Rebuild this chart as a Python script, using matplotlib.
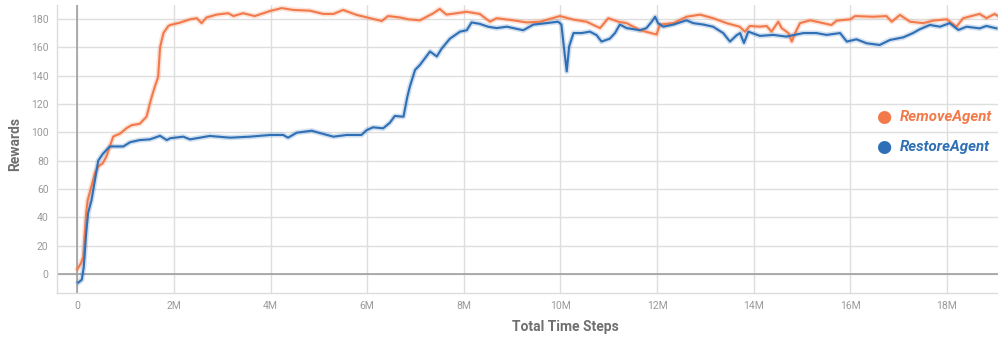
import matplotlib
matplotlib.use("Agg")
import matplotlib.pyplot as plt
from matplotlib.ticker import FuncFormatter

# Training reward curves (x in millions of time steps)
remove_steps = [0.0, 0.07, 0.12, 0.18, 0.21, 0.29, 0.36, 0.43, 0.52, 0.6, 0.67, 0.74, 0.88,
                1.02, 1.12, 1.29, 1.43, 1.52, 1.6, 1.67, 1.71, 1.78, 1.88,
                1.92, 2.12, 2.33, 2.47, 2.57, 2.67, 2.88, 3.12, 3.23, 3.43, 3.67, 3.85,
                3.99, 4.23, 4.47, 4.81, 5.09, 5.3, 5.5, 5.78, 6.06, 6.3, 6.43, 6.68, 6.85,
                7.09, 7.37, 7.5, 7.64, 8.06, 8.33, 8.54, 8.68, 9.02, 9.3, 9.58, 9.99,
                10.27, 10.54, 10.82, 10.99, 11.2, 11.37, 11.65, 11.99, 12.06, 12.34, 12.61,
                12.89, 13.16, 13.44, 13.71, 13.82, 13.92, 14.13, 14.27, 14.37, 14.51, 14.58,
                14.72, 14.79, 14.86, 14.96, 15.17, 15.44, 15.61, 15.72, 16.0, 16.1, 16.48,
                16.75, 16.86, 17.03, 17.24, 17.51, 17.72, 18.0, 18.2, 18.34, 18.68, 18.82,
                18.99, 19.06]
remove_reward = [3.5, 7.5, 12, 43, 52, 62, 71, 76, 78, 83, 90, 97, 99,
                 103, 105, 106, 111, 123, 132, 139, 160, 170, 175,
                 175.7, 177.3, 179.7, 180.5, 177, 181, 183, 184, 182, 184, 182, 184,
                 185.6, 187.6, 186.3, 185.8, 183.5, 183.5, 186.3, 182.8, 180.5, 178.5, 182, 181, 179.7,
                 179, 184, 187, 183, 185, 183.5, 178, 180.5, 179, 177.5, 178, 182,
                 179.5, 178, 173.5, 180.5, 178, 177, 172, 169, 176, 177, 181.5,
                 183, 180.5, 177, 174.5, 171, 175, 174.5, 175, 171, 178, 173.5,
                 170, 164, 170, 177, 179, 177, 175.7, 178.8, 179.7, 182, 181.5,
                 182, 178, 182.8, 178, 177, 178.8, 179.7, 174.5, 180.5, 183.5, 180.5,
                 183.5, 182]

restore_steps = [0.02, 0.09, 0.13, 0.18, 0.22, 0.29, 0.36, 0.43, 0.53, 0.67, 0.81, 0.95,
                 1.09, 1.29, 1.5, 1.71, 1.85,
                 1.92, 2.19, 2.33, 2.74, 3.16, 3.57, 3.99, 4.26, 4.36, 4.54, 4.85, 5.09,
                 5.3, 5.57, 5.88, 5.99, 6.12, 6.33, 6.47, 6.57, 6.75, 6.83,
                 6.88, 6.99, 7.09, 7.3, 7.44, 7.54, 7.71, 7.92, 8.06, 8.16, 8.33, 8.5,
                 8.68, 8.89, 9.23, 9.44, 9.71, 9.95, 10.02, 10.07, 10.13, 10.18, 10.27, 10.44,
                 10.61, 10.75, 10.85, 11.02, 11.13, 11.23, 11.37, 11.65, 11.78, 11.89, 11.96,
                 12.02, 12.13, 12.34, 12.61, 12.75, 12.96, 13.16, 13.37, 13.51, 13.65, 13.72,
                 13.8, 13.89, 14.13, 14.41, 14.68, 15.03, 15.3, 15.51, 15.79, 15.93, 16.13,
                 16.34, 16.61, 16.82, 17.1, 17.3, 17.44, 17.65, 17.86, 18.06, 18.24, 18.41,
                 18.68, 18.82, 19.03]
restore_reward = [-6, -4, 5, 29, 43, 52, 66, 80, 85, 90, 90, 90,
                  93, 94.5, 95, 97.5, 94.5,
                  95.8, 96.9, 95, 97.4, 96.2, 96.9, 98.1, 98.1, 96.2, 99.7, 101.1, 98.8,
                  96.9, 98.1, 98.1, 101.6, 103.5, 102.8, 106.8, 111.5, 111, 125,
                  132, 144, 147.5, 157, 153.5, 159, 166, 171, 172, 177.5, 176.5, 174.5,
                  173.5, 174.5, 172, 176, 177, 178, 176, 160.5, 143, 160.5, 170, 170,
                  171, 168.5, 164, 166, 170, 176, 173.5, 172, 173.5, 178, 181.5,
                  177, 174.5, 176, 179, 177, 176, 174.5, 170, 164, 168.5, 170,
                  163, 171, 168, 168.7, 167.5, 170, 170, 168.7, 170, 164, 165.6,
                  162.8, 161.6, 165.1, 167, 170, 172.7, 175.7, 174.5, 177, 172.2, 174.5,
                  173.3, 175, 173.3]

series_names = ["RemoveAgent", "RestoreAgent"]
series_colors = ["#f27a4a", "#2e6fb6"]

y_ticks = [0, 20, 40, 60, 80, 100, 120, 140, 160, 180]
x_ticks = [0, 2, 4, 6, 8, 10, 12, 14, 16, 18]

plt.rcParams["font.family"] = ["Roboto", "DejaVu Sans"]

fig = plt.figure(figsize=(9.98, 3.38), dpi=100)
ax = fig.add_axes([57 / 998, 45 / 338, 941 / 998, 288 / 338])

ax.set_xlim(-0.424, 19.06)
ax.set_ylim(-13.4, 189.8)

# grid
ax.set_xticks(x_ticks)
ax.set_yticks(y_ticks)
ax.grid(True, color="#dedede", linewidth=1.0)
ax.set_axisbelow(True)
ax.axhline(0, color="#9a9a9a", linewidth=1.1, zorder=1.5)
ax.axvline(0, color="#9a9a9a", linewidth=1.1, zorder=1.5)

for spine in ["top", "right"]:
    ax.spines[spine].set_visible(False)
for spine in ["left", "bottom"]:
    ax.spines[spine].set_color("#dcdcdc")
    ax.spines[spine].set_linewidth(1.0)

ax.tick_params(axis="both", length=0, labelsize=7.5, labelcolor="#9a9a9a", pad=6)
ax.xaxis.set_major_formatter(FuncFormatter(lambda v, p: "0" if v == 0 else f"{int(v)}M"))

data = [(remove_steps, remove_reward), (restore_steps, restore_reward)]
for (xs, ys), col in zip(data, series_colors):
    ax.plot(xs, ys, color=col, alpha=0.22, linewidth=3.8, solid_joinstyle="round", zorder=2)
    ax.plot(xs, ys, color=col, linewidth=1.5, solid_joinstyle="round", zorder=3)

# legend on the right
for i, (name, col) in enumerate(zip(series_names, series_colors)):
    yp = 1 - (117 + 30 * i) / 338
    fig.text(884 / 998, yp, "\u25cf", color=col, fontsize=12.5, ha="center", va="center",
             family="DejaVu Sans")
    fig.text(900 / 998, yp, name, color=col, fontsize=10.8, fontweight="bold",
             fontstyle="italic", ha="left", va="center")

fig.text(565 / 998, 1 - 327 / 338, "Total Time Steps", color="#6f6f6f", fontsize=10,
         fontweight="bold", ha="center", va="center")
fig.text(15 / 998, 1 - 144 / 338, "Rewards", color="#6f6f6f", fontsize=10,
         fontweight="bold", ha="center", va="center", rotation=90)

fig.savefig("out.png", dpi=100)
